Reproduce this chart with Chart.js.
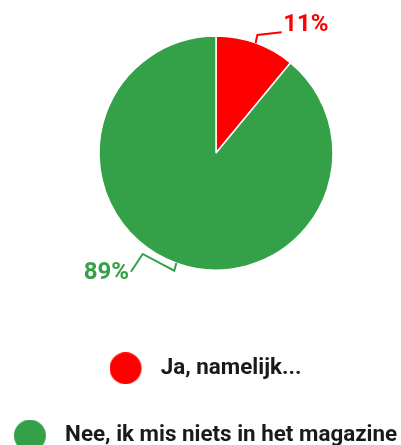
<!DOCTYPE html>
<html>
<head>
<meta charset="utf-8">
<script src="https://cdn.jsdelivr.net/npm/chart.js@4.4.1/dist/chart.umd.min.js"></script>
<style>
  html, body { margin: 0; padding: 0; background: #fff; }
</style>
</head>
<body>
<canvas id="pie" width="401" height="445"></canvas>
<script>
const categories = ['Ja, namelijk...', 'Nee, ik mis niets in het magazine'];
const percentages = [11, 89];
const sliceColors = ['#ff0000', 'rgb(52,161,73)'];

// leader line shapes, relative to the middle of each slice's outer edge
const leaders = [
  { path: [[1.7, -7.9], [26, -10.6]], text: [1.5, -7.7], align: 'left' },
  { path: [[-2.1, 7.6], [-33.7, -9.1], [-45.4, 8.6]], text: [-2, 1.8], align: 'right' }
];

// round legend markers with some room on their right
function legendDot(color) {
  const c = document.createElement('canvas');
  c.width = 40;
  c.height = 32;
  const g = c.getContext('2d');
  g.fillStyle = color;
  g.beginPath();
  g.arc(16, 16, 16, 0, Math.PI * 2);
  g.fill();
  return c;
}

// pie sits a bit right of centre, legend runs off the bottom edge
const placeBoxes = {
  id: 'placeBoxes',
  afterLayout(chart) {
    chart.chartArea = { left: 31, top: 0, right: 401, bottom: 306, width: 370, height: 306 };
    const lg = chart.legend;
    const h = lg.bottom - lg.top;
    lg.top = 312;
    lg.bottom = 312 + h;
  }
};

const pctLabels = {
  id: 'pctLabels',
  afterDatasetsDraw(chart) {
    const ctx = chart.ctx;
    const meta = chart.getDatasetMeta(0);
    meta.data.forEach((arc, i) => {
      const mid = (arc.startAngle + arc.endAngle) / 2;
      const ax = arc.x + arc.outerRadius * Math.cos(mid);
      const ay = arc.y + arc.outerRadius * Math.sin(mid);
      const L = leaders[i];
      ctx.save();
      ctx.strokeStyle = sliceColors[i];
      ctx.lineWidth = 2;
      ctx.beginPath();
      ctx.moveTo(ax, ay);
      L.path.forEach(p => ctx.lineTo(ax + p[0], ay + p[1]));
      ctx.stroke();
      const end = L.path[L.path.length - 1];
      ctx.fillStyle = sliceColors[i];
      ctx.font = 'bold 24px Roboto';
      ctx.textAlign = L.align;
      ctx.textBaseline = 'middle';
      ctx.fillText(percentages[i] + '%', ax + end[0] + L.text[0], ay + end[1] + L.text[1]);
      ctx.restore();
    });
  }
};

const ctx = document.getElementById('pie').getContext('2d');
const myChart = new Chart(ctx, {
    type: 'pie',
    data: {
        labels: categories,
        datasets: [{
            data: percentages,
            backgroundColor: sliceColors,
            borderColor: '#ffffff',
            borderWidth: 1.5,
            radius: 117
        }]
    },
    options: {
        responsive: false,
        animation: false,
        layout: {
            padding: { left: 10, right: 0, top: 0, bottom: 0 }
        },
        plugins: {
            tooltip: { enabled: false },
            legend: {
                position: 'bottom',
                labels: {
                    usePointStyle: true,
                    pointStyleWidth: 40,
                    padding: 45,
                    color: '#1a1a1a',
                    font: { family: 'Roboto', size: 22.4, weight: 'bold' },
                    generateLabels(chart) {
                        const items = Chart.overrides.pie.plugins.legend.labels.generateLabels(chart);
                        items.forEach((it, i) => { it.pointStyle = legendDot(sliceColors[i]); });
                        return items;
                    }
                }
            }
        }
    },
    plugins: [placeBoxes, pctLabels]
});
</script>
</body>
</html>
